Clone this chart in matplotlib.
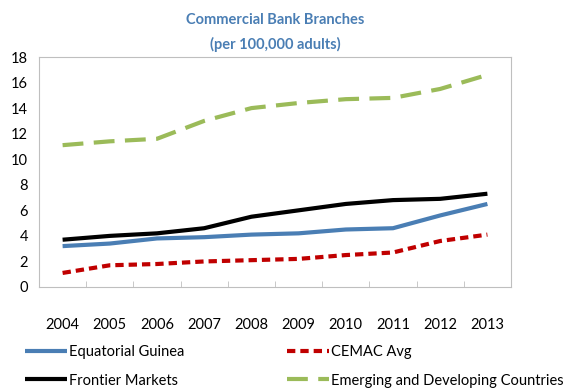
import matplotlib.pyplot as plt
import numpy as np

# data: commercial bank branches per 100,000 adults
years = ['2004', '2005', '2006', '2007', '2008', '2009', '2010', '2011', '2012', '2013']
eq_guinea = [3.2, 3.4, 3.8, 3.9, 4.1, 4.2, 4.5, 4.6, 5.6, 6.5]
cemac = [1.1, 1.7, 1.8, 2.0, 2.1, 2.2, 2.5, 2.7, 3.6, 4.1]
frontier = [3.7, 4.0, 4.2, 4.6, 5.5, 6.0, 6.5, 6.8, 6.9, 7.3]
emerging = [11.1, 11.4, 11.6, 13.0, 14.0, 14.4, 14.7, 14.8, 15.5, 16.6]

plt.rcParams['font.family'] = ['Lato', 'DejaVu Sans']

fig = plt.figure(figsize=(5.71, 3.9), dpi=100)
ax = fig.add_axes([39/571, 1 - 287/390, 472/571, 230/390])

x = np.arange(len(years))
l1, = ax.plot(x, eq_guinea, color='#4a7eb4', lw=3, solid_capstyle='butt')
l2, = ax.plot(x, cemac, color='#c00000', lw=3, dashes=(2, 1.2))
l3, = ax.plot(x, frontier, color='black', lw=3, solid_capstyle='butt')
l4, = ax.plot(x, emerging, color='#9bbb59', lw=3, dashes=(5, 2.5))

ax.set_xlim(-0.5, len(years) - 0.5)
ax.set_ylim(0, 18)
ax.set_yticks(range(0, 19, 2))
ax.set_xticks(x)
ax.set_xticklabels(years)
ax.set_xticks(np.arange(0.5, len(years) - 1, 1), minor=True)
ax.tick_params(axis='x', which='major', length=0, pad=22, labelsize=10.5)
ax.tick_params(axis='x', which='minor', length=4, direction='in', color='#bfbfbf')
ax.tick_params(axis='y', length=0, pad=8, labelsize=10.5)
for s in ax.spines.values():
    s.set_color('#bfbfbf')

cx = 0.5 * (39 + 511) / 571
fig.text(cx, 1 - 20/390, 'Commercial Bank Branches', ha='center', va='center',
         color='#4a7eb4', fontsize=10.5, fontweight='bold')
fig.text(cx, 1 - 44/390, '(per 100,000 adults)', ha='center', va='center',
         color='#4a7eb4', fontsize=10.5, fontweight='bold')

# two legend columns, placed separately
opts = dict(loc='upper left', frameon=False, fontsize=10.5, handlelength=2.9,
            handletextpad=0.15, labelspacing=1.0, borderaxespad=0, borderpad=0)
fig.legend([l1, l3], ['Equatorial Guinea', 'Frontier Markets'],
           bbox_to_anchor=(25/571, 1 - 345/390), **opts)
fig.legend([l2, l4], ['CEMAC Avg', 'Emerging and Developing Countries'],
           bbox_to_anchor=(287/571, 1 - 345/390), **opts)

fig.savefig('out.png', dpi=100)
